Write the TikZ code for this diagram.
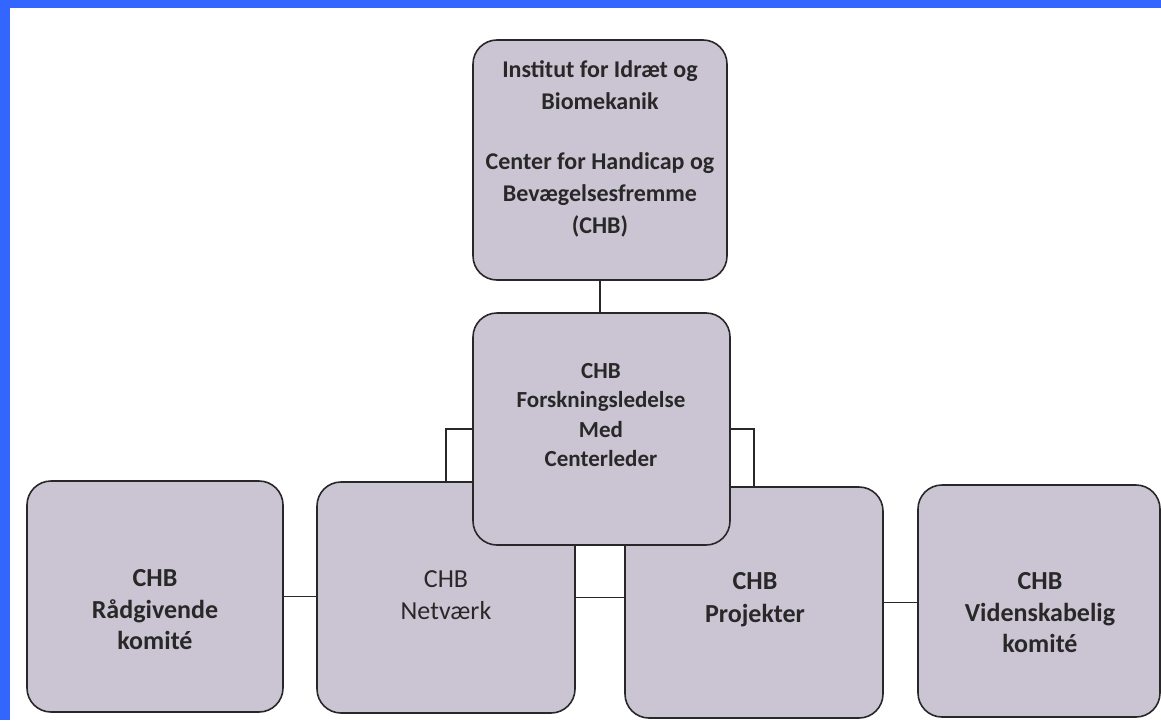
\documentclass[tikz,border=0pt]{standalone}
\usepackage{fontspec}
\setmainfont{Carlito}
\definecolor{bluebar}{RGB}{51,102,255}
\definecolor{boxfill}{RGB}{203,197,211}
\definecolor{ink}{RGB}{40,40,40}
\begin{document}
\begin{tikzpicture}[x=1pt,y=-1pt,
  box/.style={draw=ink, line width=1.6pt, fill=boxfill, rounded corners=24pt},
  lbl/.style={text=ink, align=center, inner sep=0pt, font=\fontsize{26}{31.5}\selectfont\bfseries},
  lbltop/.style={lbl, font=\fontsize{24}{32}\selectfont\bfseries},
  lblm/.style={lbl, font=\fontsize{23}{29.5}\selectfont\bfseries},
  lblr/.style={lbl, font=\fontsize{26}{32}\selectfont},
  link/.style={draw=ink, line width=1.6pt}]
\useasboundingbox (0,0) rectangle (1161,720);
\fill[white] (0,0) rectangle (1161,720);
\fill[bluebar] (0,0) rectangle (1161,8);
\fill[bluebar] (0,0) rectangle (10,720);
% boxes
\node[box, minimum width=256pt, minimum height=231pt] (rad) at (155,596.5) {};
\node[box, minimum width=258pt, minimum height=231pt] (net) at (446,597.5) {};
\node[box, minimum width=258pt, minimum height=231pt] (proj) at (754,602.5) {};
\node[box, minimum width=242pt, minimum height=232pt] (vid) at (1039,601) {};
\node[box, minimum width=254pt, minimum height=240pt] (top) at (600,160) {};
\node[box, minimum width=257pt, minimum height=232pt] (mid) at (601.5,429) {};
% connectors
\draw[link] (top.south) -- (top.south |- mid.north);
\draw[link] (mid.west) -| (net.north);
\draw[link] (mid.east) -| (proj.north);
\draw[link] (rad.east) -- (rad.east -| net.west);
\draw[link] (net.east) -- (net.east -| proj.west);
\draw[link] (proj.east) -- (proj.east -| vid.west);
% texts
\node[lbltop] (toptxt) at (600,149) {Institut for Idræt og\\Biomekanik\\[28pt]Center for Handicap og\\Bevægelsesfremme\\(CHB)};
\node[lblm] (midtxt) at (601,415) {CHB\\Forskningsledelse\\Med\\Centerleder};
\node[lbl] (radtxt) at (155,610) {CHB\\Rådgivende\\komité};
\node[lblr] (nettxt) at (446,595) {CHB\\Netværk};
\node[lbl, font=\fontsize{26}{33}\selectfont\bfseries] (projtxt) at (755,600) {CHB\\Projekter};
\node[lbl] (vidtxt) at (1040,613) {CHB\\Videnskabelig\\komité};
\end{tikzpicture}
\end{document}
